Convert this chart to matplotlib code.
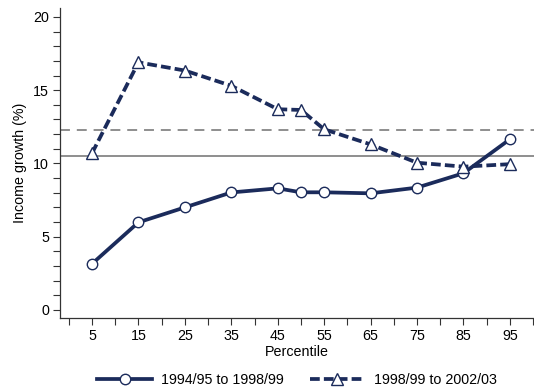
import matplotlib
matplotlib.use('Agg')
from matplotlib import pyplot as plt

plt.rcParams['font.family'] = ['Liberation Sans', 'DejaVu Sans']

# Percentile points and income growth for each period
percentiles = [5, 15, 25, 35, 45, 50, 55, 65, 75, 85, 95]
growth_9499 = [3.15, 5.98, 7.0, 8.02, 8.3, 8.03, 8.03, 7.96, 8.35, 9.33, 11.65]
growth_9803 = [10.7, 16.9, 16.34, 15.3, 13.7, 13.65, 12.33, 11.3, 10.05, 9.78, 9.95]

# Mean growth over each period
mean_9499 = 10.51
mean_9803 = 12.27

navy = '#1b2b5b'
grey = '#707070'
fs = 10.3

fig = plt.figure(figsize=(5.34, 3.89), dpi=100)
ax = fig.add_axes([60 / 534, 71 / 389, 1 - 60 / 534, 310 / 389])

ax.axhline(mean_9499, color=grey, lw=1.1, zorder=1)
ax.axhline(mean_9803, color=grey, lw=1.1, dashes=(6.5, 4.5), zorder=1)

ax.plot(percentiles, growth_9499, color=navy, lw=2.7, marker='o', ms=7.5,
        mfc='white', mec=navy, mew=1.0, label='1994/95 to 1998/99', zorder=3)
ax.plot(percentiles, growth_9803, color=navy, lw=2.7, dashes=(2.6, 1.1),
        dash_capstyle='butt', marker='^', ms=8, mfc='white', mec=navy,
        mew=1.0, label='1998/99 to 2002/03', zorder=3)

ax.set_xlim(-1.9, 100.2)
ax.set_ylim(-0.55, 20.61)
ax.set_xticks(percentiles[:1] + list(range(15, 100, 10)))
ax.set_xticks(range(0, 101, 10), minor=True)
ax.set_yticks([0, 5, 10, 15, 20])
ax.set_yticks(range(0, 21), minor=True)
ax.tick_params(which='both', direction='out', length=5, width=0.8,
               color='#333333', labelsize=fs, pad=3)

for side in ['top', 'right']:
    ax.spines[side].set_visible(False)
for side in ['left', 'bottom']:
    ax.spines[side].set_color('#333333')
    ax.spines[side].set_linewidth(0.9)

ax.set_xlabel('Percentile', fontsize=fs, labelpad=1)
ax.set_ylabel('Income growth (%)', fontsize=fs, labelpad=4)

fig.legend(loc='center', bbox_to_anchor=(297 / 534, 9 / 389), ncol=2,
           frameon=False, fontsize=fs, handlelength=3.85, handletextpad=0.63,
           columnspacing=1.8)

fig.savefig('out.png', dpi=100)
